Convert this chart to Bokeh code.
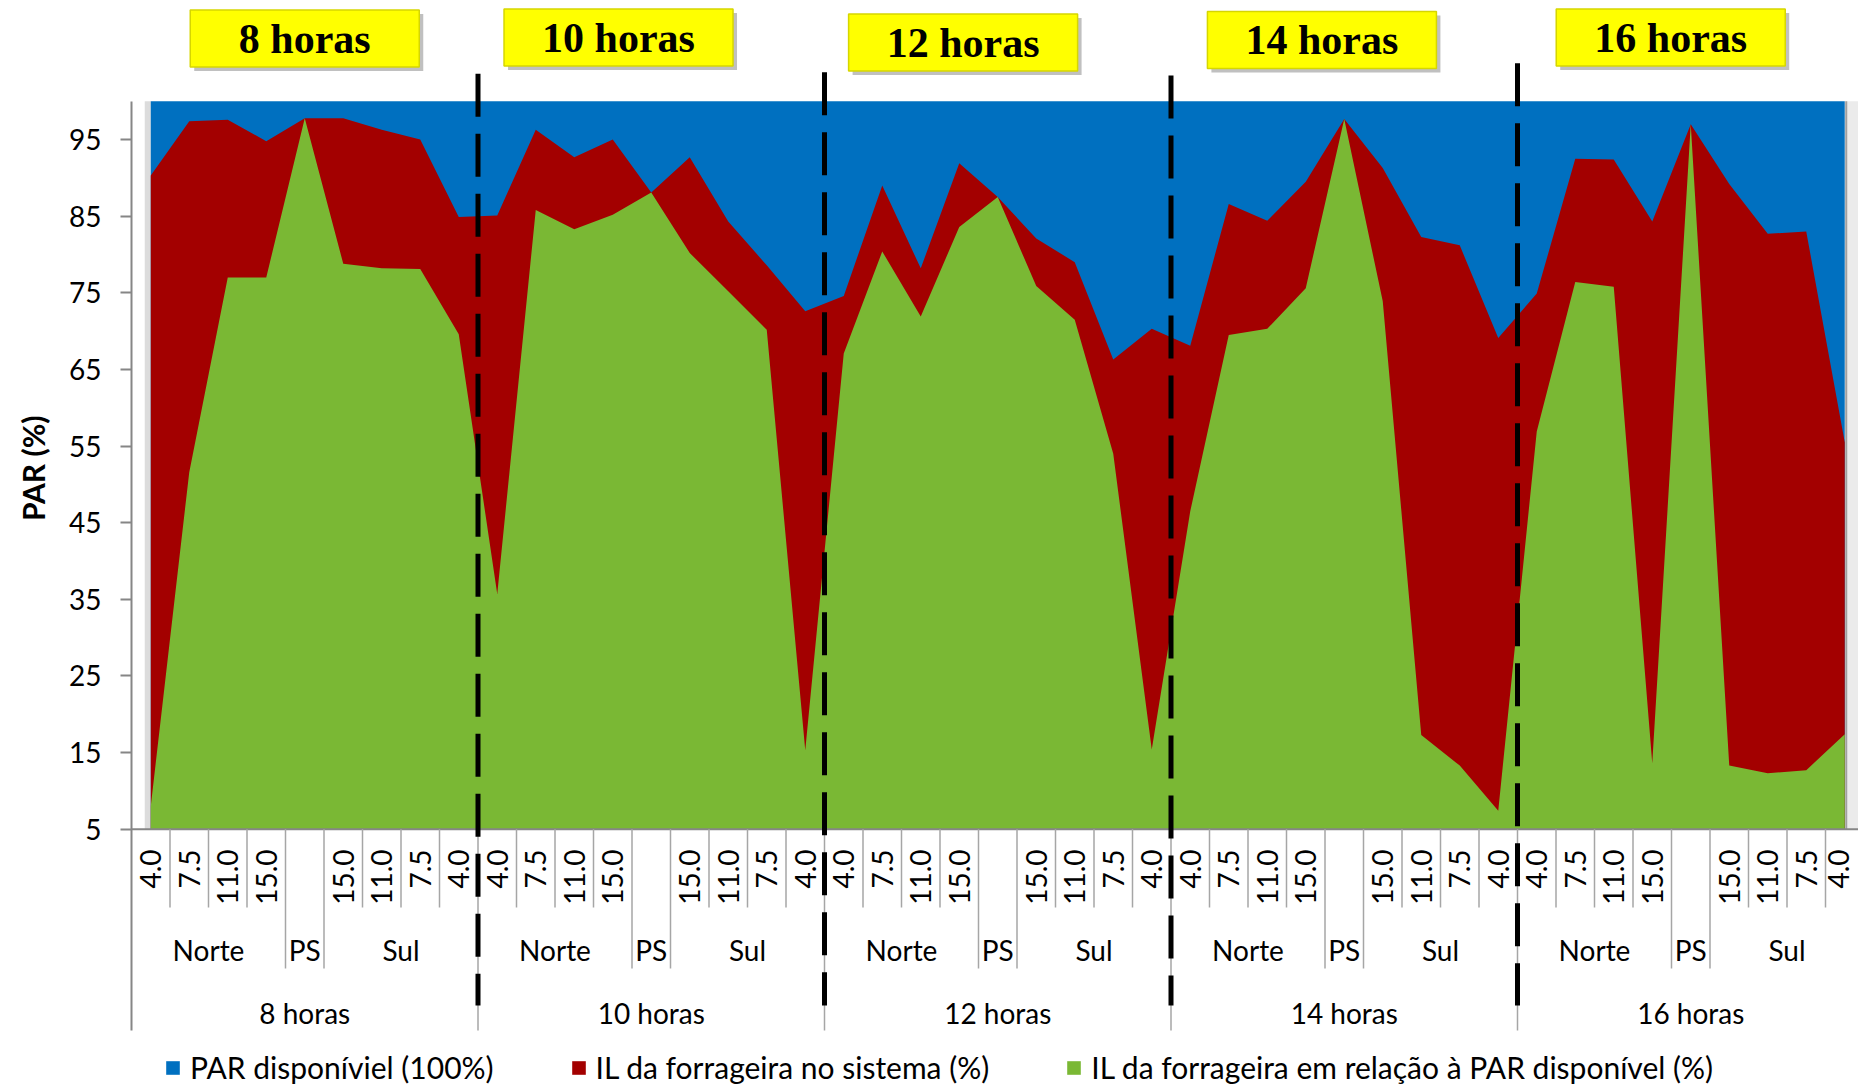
import math
from bokeh.plotting import figure
from bokeh.models import Range1d, FixedTicker, Legend, LegendItem, Title
from bokeh.core.properties import value
from bokeh.embed import file_html
from bokeh.resources import INLINE

# ---------------- data ----------------
horas = ["8 horas", "10 horas", "12 horas", "14 horas", "16 horas"]
posicoes = ["Norte", "Norte", "Norte", "Norte", "PS", "Sul", "Sul", "Sul", "Sul"]
distancias = ["4.0", "7.5", "11.0", "15.0", "", "15.0", "11.0", "7.5", "4.0"]

par_disponivel = [100.0] * 45

il_sistema = [
    90.3, 97.4, 97.6, 94.8, 97.8, 97.8, 96.3, 95.0, 84.9,   # 8 horas
    85.1, 96.3, 92.7, 95.0, 88.1, 92.7, 84.3, 78.6, 72.6,   # 10 horas
    74.6, 89.0, 78.2, 91.9, 87.5, 82.1, 79.0, 66.3, 70.3,   # 12 horas
    68.1, 86.6, 84.4, 89.5, 97.7, 91.3, 82.3, 81.2, 69.1,   # 14 horas
    74.9, 92.5, 92.4, 84.3, 97.0, 89.2, 82.7, 83.0, 55.5,   # 16 horas
]

il_relativa = [
    8.0, 51.6, 77.0, 77.0, 97.8, 78.8, 78.2, 78.1, 69.6,    # 8 horas
    35.7, 85.8, 83.3, 85.2, 88.1, 80.2, 75.2, 70.2, 15.3,   # 10 horas
    67.1, 80.4, 71.9, 83.6, 87.5, 75.9, 71.5, 54.0, 15.4,   # 12 horas
    46.5, 69.5, 70.3, 75.6, 97.7, 73.9, 17.3, 13.3, 7.4,    # 14 horas
    56.9, 76.4, 75.8, 13.6, 97.0, 13.3, 12.3, 12.7, 17.4,   # 16 horas
]

serie_nomes = [
    "PAR disponíviel (100%)",
    "IL da forrageira no sistema (%)",
    "IL da forrageira em relação à PAR disponível (%)",
]
y_ticks = [5, 15, 25, 35, 45, 55, 65, 75, 85, 95]
y_axis_title = "PAR (%)"

# ---------------- layout ----------------
W, H = 1858, 1085
LEFT = 131            # frame left (category axis start)
PPX = 38.5            # px per category
PPU = 7.662           # px per y unit
Y100 = 100.8          # canvas px of y = 100
BASE = 5              # y of the category axis

def y_at(px):
    return 100 - (px - Y100) / PPU

n_pos = len(distancias)
n = len(horas) * n_pos
xs = [i + 0.5 for i in range(n)]

BLUE, RED, GREEN = "#0070C0", "#A30000", "#7AB834"
AXIS_GRAY = "#868686"
SEP_GRAY = "#A6A6A6"
FONT = "Lato"

p = figure(width=W, height=H, output_backend="svg", toolbar_location=None,
           x_axis_location=None, y_axis_location="left",
           x_range=Range1d(0, (W - LEFT) / PPX),
           y_range=Range1d(y_at(H), y_at(0)))
p.min_border_left = LEFT
p.min_border_right = 0
p.min_border_top = 0
p.min_border_bottom = 0
p.outline_line_color = None
p.xgrid.visible = False
p.ygrid.visible = False
p.background_fill_color = "white"
p.border_fill_color = "white"

# plot-area soft edges
p.varea(x=[xs[0] - 6 / PPX, xs[0]], y1=BASE, y2=100, fill_color="#DCDCDC")
p.varea(x=[xs[-1], xs[-1] + 14 / PPX], y1=BASE, y2=100, fill_color="#EBEBEB")

# series areas
r_blue = p.varea(x=xs, y1=BASE, y2=par_disponivel, fill_color=BLUE)
r_red = p.varea(x=xs, y1=BASE, y2=il_sistema, fill_color=RED)
r_green = p.varea(x=xs, y1=BASE, y2=il_relativa, fill_color=GREEN)
p.segment(x0=[xs[-1] + 1.5 / PPX], y0=[BASE], x1=[xs[-1] + 1.5 / PPX], y1=[100],
          line_color="#A0A0A0", line_width=2)

# y axis
yax = p.yaxis[0]
yax.ticker = FixedTicker(ticks=y_ticks)
yax.bounds = (y_at(1030), 100)
yax.axis_line_color = AXIS_GRAY
yax.axis_line_width = 2
yax.major_tick_line_color = AXIS_GRAY
yax.major_tick_line_width = 2
yax.major_tick_out = 11
yax.major_tick_in = 0
yax.minor_tick_line_color = None
yax.major_label_text_font = FONT
yax.major_label_text_font_size = "28px"
yax.major_label_text_color = "#000000"
yax.major_label_standoff = 19

# y axis title, in the left panel beside the tick labels
p.add_layout(Title(text=y_axis_title, align="right", offset=415, vertical_align="top",
                   text_font=FONT, text_font_style="bold", text_font_size="30px",
                   text_color="#000000", standoff=28), "left")

# category axis line
p.segment(x0=[0], y0=[BASE], x1=[n + 1], y1=[BASE], line_color=AXIS_GRAY, line_width=2)

# category separators
sx, sy1 = [], []
for k in range(1, n + 1):
    if k % n_pos == 0:
        bottom = y_at(1030)
    elif k % n_pos in (4, 5):
        bottom = y_at(968)
    else:
        bottom = y_at(907)
    sx.append(k)
    sy1.append(bottom)
p.segment(x0=sx, y0=[BASE] * len(sx), x1=sx, y1=sy1, line_color=SEP_GRAY, line_width=1.5)

# level 1 labels (distances), rotated; the last one nudged inside the edge
lab_off = [0] * (n - 1) + [-6]
p.text(x=xs, y=[y_at(849)] * n, text=distancias * len(horas), angle=math.pi / 2,
       x_offset=lab_off,
       text_font=value(FONT), text_font_size=value("28px"), text_color="#000000",
       text_align="right", text_baseline="middle")

# level 2 labels (Norte / PS / Sul)
g_x, g_t = [], []
for h in range(len(horas)):
    j = 0
    while j < n_pos:
        k = j
        while k + 1 < n_pos and posicoes[k + 1] == posicoes[j]:
            k += 1
        g_x.append(h * n_pos + (j + k) / 2 + 0.5)
        g_t.append(posicoes[j])
        j = k + 1
p.text(x=g_x, y=[y_at(949)] * len(g_x), text=g_t,
       text_font=value(FONT), text_font_size=value("28px"), text_color="#000000",
       text_align="center", text_baseline="middle")

# level 3 labels (hours)
h_x = [h * n_pos + n_pos / 2 for h in range(len(horas))]
p.text(x=h_x, y=[y_at(1012)] * len(horas), text=horas,
       text_font=value(FONT), text_font_size=value("28px"), text_color="#000000",
       text_align="center", text_baseline="middle")

# dashed hour dividers
div_x = [h * n_pos for h in range(1, len(horas))]
div_top_px = [73.3, 71.7, 75.0, 62.7]
p.segment(x0=div_x, y0=[y_at(v) for v in div_top_px], x1=div_x, y1=[y_at(1005)] * len(div_x),
          line_color="#000000", line_width=5, line_dash="43 17")

# yellow hour title boxes
box_x = [4.5, 12.65, 21.6, 30.92, 39.98]
box_y_px = [38.0, 37.0, 42.0, 39.5, 37.0]
box_y = [y_at(v) for v in box_y_px]
p.rect(x=[v + 4 / PPX for v in box_x], y=[v - 4 / PPU for v in box_y], width=229, height=57,
       width_units="screen", height_units="screen", fill_color="#8C8C8C", fill_alpha=0.55,
       line_color=None)
p.rect(x=box_x, y=box_y, width=229, height=57, width_units="screen", height_units="screen",
       fill_color="#FFFF00", line_color="#D6D600", line_width=1.5)
p.text(x=box_x, y=box_y, text=horas, text_font=value("Liberation Serif"),
       text_font_style="bold", text_font_size=value("42px"), text_color="#000000",
       text_align="center", text_baseline="middle")

# legend
legend = Legend(items=[LegendItem(label=serie_nomes[0], renderers=[r_blue]),
                       LegendItem(label=serie_nomes[1], renderers=[r_red]),
                       LegendItem(label=serie_nomes[2], renderers=[r_green])],
                orientation="horizontal", location=(33, 0), spacing=76, label_standoff=9,
                glyph_width=17, glyph_height=17, padding=0, margin=0,
                border_line_color=None, background_fill_alpha=0,
                label_text_font=FONT, label_text_font_size="30px", label_text_color="#000000")
p.add_layout(legend)

open("out.html", "w").write(file_html(p, INLINE))
